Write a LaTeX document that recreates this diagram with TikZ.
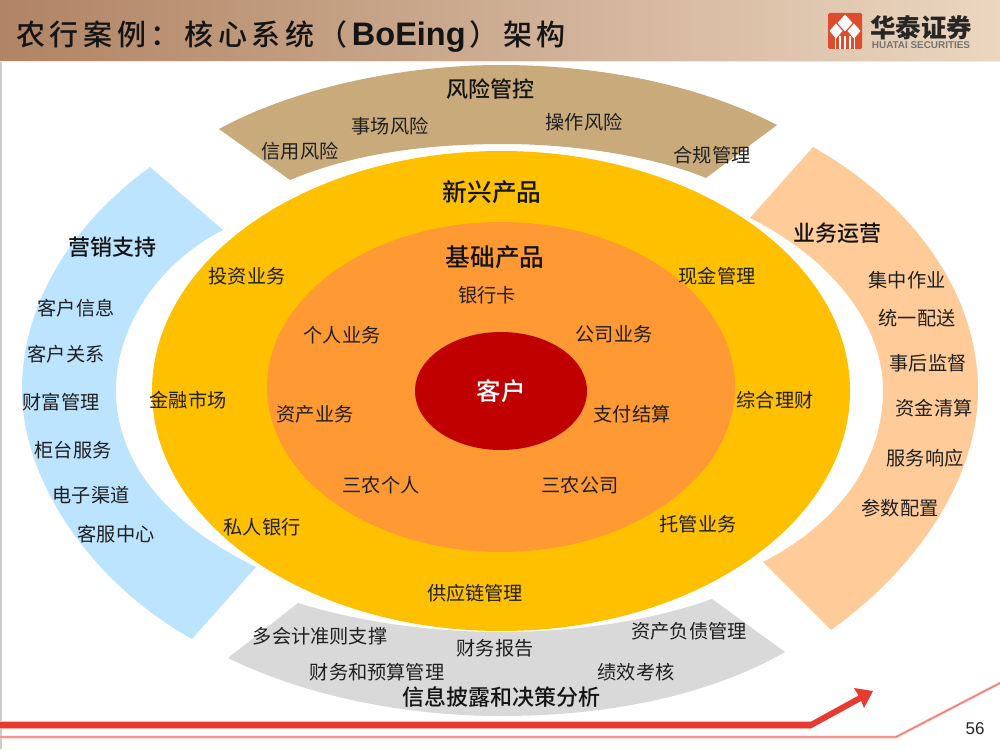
\documentclass[tikz,border=0pt]{standalone}
\usepackage{fontspec}
\setmainfont{Liberation Sans}
\newfontfamily\cjk{Noto Sans CJK SC}
\newfontfamily\cjkm{Noto Sans CJK SC Medium}
\newfontfamily\titlef[LetterSpace=16]{Noto Sans CJK SC Medium}
\usetikzlibrary{arrows.meta}
\definecolor{hdrL}{RGB}{176,132,100}
\definecolor{hdrR}{RGB}{235,214,192}
\definecolor{tanband}{RGB}{201,170,123}
\definecolor{sky}{RGB}{189,228,255}
\definecolor{peach}{RGB}{255,204,153}
\definecolor{gold}{RGB}{255,192,0}
\definecolor{midor}{RGB}{255,153,51}
\definecolor{deepred}{RGB}{192,0,0}
\definecolor{grayband}{RGB}{217,217,217}
\definecolor{linered}{RGB}{233,58,48}
\definecolor{logored}{RGB}{222,76,44}
\tikzset{
 lab/.style={font=\cjk\fontsize{19.2}{21}\selectfont,text=black!88,inner sep=0pt},
 head/.style={font=\cjkm\fontsize{22}{24}\selectfont,text=black!92,inner sep=0pt},
 bighead/.style={font=\cjkm\fontsize{24.7}{26}\selectfont,text=black!92,inner sep=0pt},
}
\begin{document}
\begin{tikzpicture}[x=1pt,y=-1pt]
\useasboundingbox (0,0) rectangle (1000,749);
\fill[white] (0,0) rectangle (1000,749);
\fill[black!20] (0,62) rectangle (1.5,749);
\shade[left color=hdrL,right color=hdrR] (0,0) rectangle (1000,62);
\fill[hdrR!60!white] (0,61) rectangle (1000,62.5);
% bands
\fill[tanband] (219,129) .. controls (300,85) and (410,65) .. (500,65) .. controls (600,65) and (700,85) .. (777,125) -- (706,178) .. controls (650,155) and (570,144) .. (504,144) .. controls (420,144) and (350,155) .. (290,180) -- cycle;
\fill[sky] (150,167) .. controls (75,222) and (22,300) .. (22,390) .. controls (22,480) and (90,582) .. (192,639) -- (256,567) .. controls (170,525) and (116,465) .. (116,390) .. controls (116,325) and (160,262) .. (223,230) -- cycle;
\fill[peach] (813,147) .. controls (915,205) and (978,295) .. (978,390) .. controls (978,480) and (915,570) .. (831,630) -- (763,562) .. controls (835,525) and (883,465) .. (883,390) .. controls (883,320) and (825,255) .. (750,218) -- cycle;
\fill[grayband] (228,658) .. controls (310,698) and (410,716) .. (501,716) .. controls (610,716) and (710,695) .. (785,652) -- (712,599) .. controls (650,621) and (575,632) .. (501,632) .. controls (430,632) and (360,622) .. (298,603) -- cycle;
% ellipses
\fill[gold] (501,391) ellipse[x radius=349,y radius=240];
\fill[midor] (501,387) ellipse[x radius=234,y radius=165];
\fill[deepred] (501,391) ellipse[x radius=86,y radius=59];
% title
\node[anchor=west,inner sep=0pt,text=black!92] (title) at (16,37) {\titlef\fontsize{29}{31}\selectfont 农行案例：核心系统（\kern4pt{\fontspec{Liberation Sans}\bfseries\fontsize{32.5}{34}\selectfont BoEing}\kern4pt）架构};
% logo
\fill[logored,rounded corners=1.5pt] (828,13) rectangle (862,49);
\fill[white] (845,14.5) -- (852.5,23) -- (845,31.5) -- (837.5,23) -- cycle;
\fill[white] (836,23.5) -- (842.5,31) -- (836,38.5) -- (829.5,31) -- cycle;
\fill[white] (854,23.5) -- (860.5,31) -- (854,38.5) -- (847.5,31) -- cycle;
\foreach \sx in {835.5,840,845,850,854.5} \fill[white] (\sx-0.6,36) rectangle (\sx+0.6,49);
\node[inner sep=0pt,font=\cjk\bfseries\fontsize{25.5}{27}\selectfont,text=black!85] (logocn) at (921,28) {华泰证券};
\node[inner sep=0pt,font=\bfseries\fontsize{9.9}{10}\selectfont,text=black!55] (logoen) at (921,45) {HUATAI SECURITIES};
% top
\node[head] (n1) at (490,89) {风险管控};
\node[lab] (n2) at (390,126) {事场风险};
\node[lab] (n3) at (584,122) {操作风险};
\node[lab] (n4) at (300,151) {信用风险};
\node[lab] (n5) at (712,155) {合规管理};
% centre
\node[bighead] (n6) at (492,192) {新兴产品};
\node[bighead] (n7) at (495,257) {基础产品};
\node[lab] (n8) at (487,295) {银行卡};
\node[lab] (n9) at (247,276) {投资业务};
\node[lab] (n10) at (717,276) {现金管理};
\node[lab] (n11) at (342,335) {个人业务};
\node[lab] (n12) at (614,334) {公司业务};
\node[inner sep=0pt,font=\cjkm\fontsize{24.5}{26}\selectfont,text=white] (n13) at (501,391) {客户};
\node[lab] (n14) at (188,400) {金融市场};
\node[lab] (n15) at (315,414) {资产业务};
\node[lab] (n16) at (632,414) {支付结算};
\node[lab] (n17) at (775,400) {综合理财};
\node[lab] (n18) at (381,485) {三农个人};
\node[lab] (n19) at (580,485) {三农公司};
\node[lab] (n20) at (262,527) {私人银行};
\node[lab] (n21) at (698,524) {托管业务};
\node[lab] (n22) at (475,593) {供应链管理};
% bottom
\node[lab] (n23) at (320,636) {多会计准则支撑};
\node[lab] (n24) at (495,648) {财务报告};
\node[lab] (n25) at (689,631) {资产负债管理};
\node[lab] (n26) at (377,672) {财务和预算管理};
\node[lab] (n27) at (636,672) {绩效考核};
\node[head] (n28) at (501,697) {信息披露和决策分析};
% left
\node[head] (n29) at (112,247) {营销支持};
\node[lab] (n30) at (76,308) {客户信息};
\node[lab] (n31) at (66,354) {客户关系};
\node[lab] (n32) at (61,402) {财富管理};
\node[lab] (n33) at (73,450) {柜台服务};
\node[lab] (n34) at (91,495) {电子渠道};
\node[lab] (n35) at (116,534) {客服中心};
% right
\node[head] (n36) at (837,233) {业务运营};
\node[lab] (n37) at (907,280) {集中作业};
\node[lab] (n38) at (917,318) {统一配送};
\node[lab] (n39) at (928,363) {事后监督};
\node[lab] (n40) at (934,408) {资金清算};
\node[lab] (n41) at (925,458) {服务响应};
\node[lab] (n42) at (900,508) {参数配置};
% footer
\coordinate (a0) at (0,725); \coordinate (a1) at (811,725); \coordinate (a2) at (864,696);
\coordinate (b0) at (0,737); \coordinate (b1) at (896,737); \coordinate (b2) at (1000,683);
\draw[linered!35,line width=8.5pt,line join=miter] (a0) -- (a1);
\draw[linered,line width=6pt,line join=miter] (a0) -- (a1) -- (a2);
\fill[linered] (873,691) -- (854,688) -- (860,698) -- (864,708) -- cycle;
\draw[linered!25,line width=3pt] (b0) -- (b1) -- (b2);
\draw[linered!70,line width=1.2pt] (b0) -- (b1) -- (b2);
\node[inner sep=0pt,font=\fontsize{17}{18}\selectfont,text=black!85] (pg) at (975,729) {56};
\end{tikzpicture}
\end{document}
